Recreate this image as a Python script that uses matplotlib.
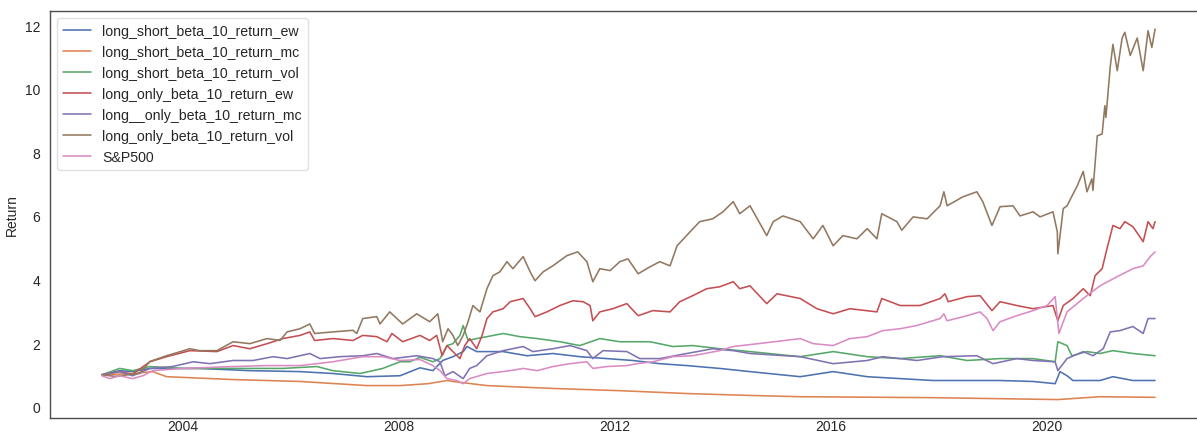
import matplotlib
matplotlib.use("Agg")
import matplotlib.pyplot as plt
import seaborn as sns
import numpy as np

sns.set_style("white")
plt.rcParams["font.family"] = ["Liberation Sans", "DejaVu Sans"]

# ---------------- data (decimal years, cumulative return) ----------------
ls_ew_years = [2002.50, 2002.83, 2003.07, 2003.39, 2004.31, 2005.24, 2006.17, 2006.78, 2007.41, 2008.02,
               2008.39, 2008.63, 2008.81, 2009.00, 2009.19, 2009.26, 2009.44, 2009.93, 2010.37, 2010.85,
               2011.35, 2011.85, 2012.33, 2012.83, 2013.33, 2013.94, 2014.50, 2015.43, 2016.04, 2016.67,
               2017.28, 2017.89, 2019.13, 2019.74, 2020.15, 2020.24, 2020.37, 2020.48, 2020.98, 2021.22,
               2021.59, 2022.00]
ls_ew_vals = [1.00, 1.13, 1.10, 1.20, 1.20, 1.13, 1.10, 1.04, 0.94, 0.97,
              1.22, 1.13, 1.45, 1.57, 1.73, 1.89, 1.73, 1.73, 1.60, 1.67,
              1.57, 1.51, 1.45, 1.35, 1.29, 1.20, 1.10, 0.94, 1.10, 0.94,
              0.88, 0.82, 0.82, 0.79, 0.72, 1.10, 0.97, 0.82, 0.82, 0.94,
              0.82, 0.82]

ls_mc_years = [2002.50, 2003.07, 2003.44, 2003.70, 2004.93, 2006.17, 2007.41, 2008.02, 2008.54, 2008.89,
               2009.00, 2009.63, 2010.85, 2012.09, 2013.33, 2014.50, 2015.43, 2017.89, 2020.20, 2020.98,
               2022.00]
ls_mc_vals = [1.00, 1.04, 1.10, 0.94, 0.85, 0.79, 0.66, 0.66, 0.72, 0.82,
              0.79, 0.66, 0.57, 0.50, 0.41, 0.35, 0.31, 0.28, 0.22, 0.31,
              0.29]

ls_vol_years = [2002.50, 2002.83, 2003.07, 2003.39, 2004.00, 2004.93, 2005.85, 2006.48, 2006.78, 2007.28,
                2007.70, 2008.02, 2008.20, 2008.39, 2008.63, 2008.76, 2008.89, 2009.00, 2009.13, 2009.19,
                2009.28, 2009.44, 2009.63, 2009.93, 2010.24, 2010.56, 2010.98, 2011.35, 2011.72, 2012.09,
                2012.65, 2013.07, 2013.44, 2013.94, 2014.50, 2015.43, 2016.04, 2016.67, 2017.28, 2018.02,
                2018.52, 2019.13, 2019.74, 2020.15, 2020.20, 2020.37, 2020.46, 2020.74, 2020.98, 2021.22,
                2021.59, 2022.00]
ls_vol_vals = [1.00, 1.20, 1.13, 1.26, 1.20, 1.20, 1.20, 1.26, 1.13, 1.04,
               1.20, 1.41, 1.41, 1.55, 1.41, 1.51, 1.92, 1.98, 2.24, 2.55,
               2.08, 2.14, 2.20, 2.30, 2.20, 2.14, 2.04, 1.92, 2.14, 2.04,
               2.04, 1.89, 1.92, 1.82, 1.73, 1.57, 1.73, 1.57, 1.51, 1.60,
               1.45, 1.51, 1.51, 1.41, 2.04, 1.92, 1.60, 1.73, 1.67, 1.76,
               1.67, 1.60]

lo_ew_years = [2002.50, 2002.83, 2003.07, 2003.39, 2003.70, 2004.13, 2004.63, 2004.93, 2005.24, 2005.56,
               2005.85, 2006.17, 2006.35, 2006.44, 2006.78, 2007.15, 2007.33, 2007.59, 2007.78, 2007.87,
               2008.07, 2008.39, 2008.57, 2008.70, 2008.80, 2008.89, 2009.00, 2009.13, 2009.22, 2009.31,
               2009.44, 2009.54, 2009.63, 2009.74, 2009.93, 2010.06, 2010.30, 2010.43, 2010.52, 2010.74,
               2010.98, 2011.22, 2011.41, 2011.54, 2011.59, 2011.72, 2011.96, 2012.22, 2012.43, 2012.70,
               2013.02, 2013.20, 2013.44, 2013.70, 2013.94, 2014.19, 2014.31, 2014.50, 2014.81, 2015.00,
               2015.43, 2015.74, 2016.04, 2016.35, 2016.85, 2016.94, 2017.28, 2017.65, 2018.02, 2018.11,
               2018.17, 2018.52, 2018.76, 2018.98, 2019.13, 2019.44, 2019.74, 2020.11, 2020.20, 2020.30,
               2020.48, 2020.67, 2020.80, 2020.89, 2021.02, 2021.11, 2021.22, 2021.35, 2021.44, 2021.59,
               2021.78, 2021.87, 2021.96, 2022.00]
lo_ew_vals = [1.00, 1.10, 1.02, 1.41, 1.57, 1.76, 1.73, 1.92, 1.82, 1.98,
              2.14, 2.24, 2.35, 2.08, 2.14, 2.08, 2.24, 2.20, 2.04, 2.30,
              2.04, 2.24, 2.08, 2.24, 1.60, 1.92, 1.73, 1.51, 1.92, 2.14,
              1.82, 2.24, 2.77, 2.98, 3.08, 3.30, 3.40, 3.08, 2.83, 2.98,
              3.18, 3.33, 3.30, 3.18, 2.70, 2.98, 3.08, 3.24, 2.86, 3.02,
              2.98, 3.30, 3.49, 3.71, 3.77, 3.93, 3.71, 3.80, 3.24, 3.55,
              3.40, 3.08, 2.92, 3.08, 2.98, 3.40, 3.18, 3.18, 3.40, 3.55,
              3.30, 3.46, 3.49, 3.02, 3.30, 3.18, 3.08, 3.18, 2.70, 3.18,
              3.40, 3.71, 3.49, 4.12, 4.34, 4.97, 5.70, 5.60, 5.82, 5.66,
              5.19, 5.82, 5.60, 5.82]

lo_mc_years = [2002.50, 2002.83, 2003.07, 2003.39, 2003.81, 2004.19, 2004.50, 2004.93, 2005.30, 2005.67,
               2005.93, 2006.35, 2006.54, 2006.91, 2007.33, 2007.59, 2007.89, 2008.33, 2008.63, 2008.76,
               2008.85, 2009.00, 2009.19, 2009.31, 2009.44, 2009.63, 2009.93, 2010.30, 2010.48, 2010.85,
               2011.17, 2011.48, 2011.59, 2011.78, 2012.22, 2012.46, 2012.83, 2013.33, 2013.81, 2014.19,
               2014.50, 2015.43, 2016.04, 2016.67, 2016.96, 2017.59, 2018.07, 2018.70, 2019.00, 2019.44,
               2019.74, 2020.15, 2020.20, 2020.37, 2020.67, 2020.85, 2021.04, 2021.17, 2021.35, 2021.59,
               2021.78, 2021.87, 2022.00]
lo_mc_vals = [1.00, 1.10, 0.97, 1.20, 1.26, 1.41, 1.35, 1.45, 1.45, 1.57,
              1.51, 1.67, 1.51, 1.57, 1.60, 1.67, 1.51, 1.60, 1.51, 1.41,
              0.97, 1.10, 0.88, 1.20, 1.29, 1.60, 1.76, 1.89, 1.73, 1.82,
              1.92, 1.76, 1.51, 1.76, 1.73, 1.51, 1.51, 1.67, 1.82, 1.76,
              1.67, 1.57, 1.35, 1.45, 1.57, 1.45, 1.57, 1.60, 1.35, 1.51,
              1.45, 1.41, 1.13, 1.51, 1.73, 1.60, 1.82, 2.35, 2.39, 2.52,
              2.30, 2.77, 2.77]

lo_vol_years = [2002.50, 2002.75, 2003.07, 2003.20, 2003.39, 2003.70, 2004.13, 2004.31, 2004.63, 2004.93,
                2005.24, 2005.56, 2005.80, 2005.93, 2006.17, 2006.35, 2006.44, 2006.78, 2007.15, 2007.22,
                2007.33, 2007.59, 2007.65, 2007.83, 2008.07, 2008.33, 2008.57, 2008.72, 2008.81, 2008.91,
                2009.00, 2009.09, 2009.19, 2009.28, 2009.37, 2009.50, 2009.63, 2009.74, 2009.87, 2010.00,
                2010.11, 2010.30, 2010.43, 2010.52, 2010.67, 2010.85, 2011.11, 2011.31, 2011.48, 2011.59,
                2011.72, 2011.91, 2012.09, 2012.24, 2012.43, 2012.65, 2012.83, 2013.02, 2013.15, 2013.39,
                2013.57, 2013.81, 2014.00, 2014.19, 2014.31, 2014.50, 2014.81, 2014.93, 2015.11, 2015.43,
                2015.67, 2015.85, 2016.04, 2016.22, 2016.48, 2016.67, 2016.85, 2016.94, 2017.22, 2017.31,
                2017.52, 2017.78, 2018.02, 2018.09, 2018.15, 2018.44, 2018.70, 2018.81, 2018.98, 2019.13,
                2019.37, 2019.50, 2019.74, 2019.87, 2020.11, 2020.19, 2020.20, 2020.30, 2020.37, 2020.56,
                2020.67, 2020.74, 2020.83, 2020.85, 2020.93, 2021.02, 2021.07, 2021.09, 2021.17, 2021.22,
                2021.30, 2021.39, 2021.44, 2021.54, 2021.67, 2021.78, 2021.87, 2021.94, 2022.00]
lo_vol_vals = [1.00, 0.95, 1.02, 1.04, 1.42, 1.60, 1.82, 1.76, 1.76, 2.04,
               1.98, 2.14, 2.08, 2.35, 2.45, 2.60, 2.30, 2.35, 2.40, 2.30,
               2.77, 2.83, 2.60, 2.98, 2.60, 2.92, 2.67, 2.92, 2.04, 2.45,
               2.24, 1.92, 2.24, 2.67, 3.18, 2.98, 3.71, 4.12, 4.24, 4.56,
               4.34, 4.72, 4.24, 3.96, 4.24, 4.43, 4.75, 4.87, 4.56, 3.93,
               4.34, 4.28, 4.56, 4.65, 4.18, 4.40, 4.56, 4.43, 5.06, 5.50,
               5.82, 5.91, 6.13, 6.45, 6.07, 6.32, 5.38, 5.82, 6.00, 5.82,
               5.28, 5.70, 5.06, 5.38, 5.28, 5.60, 5.28, 6.07, 5.82, 5.55,
               5.97, 5.91, 6.32, 6.76, 6.32, 6.60, 6.76, 6.45, 5.70, 6.29,
               6.32, 6.00, 6.13, 5.97, 6.13, 5.50, 4.81, 6.23, 6.32, 6.95,
               7.40, 6.76, 7.17, 6.80, 8.52, 8.58, 9.47, 9.10, 10.70, 11.40,
               10.57, 11.60, 11.78, 11.05, 11.60, 10.57, 11.83, 11.30, 11.88]

sp500_years = [2002.50, 2002.65, 2002.83, 2003.07, 2003.26, 2003.44, 2004.00, 2004.93, 2005.56, 2006.17,
               2006.78, 2007.33, 2007.70, 2008.02, 2008.39, 2008.63, 2008.76, 2008.89, 2009.07, 2009.19,
               2009.31, 2009.63, 2010.06, 2010.30, 2010.56, 2010.85, 2011.17, 2011.48, 2011.59, 2011.85,
               2012.22, 2012.41, 2012.70, 2013.07, 2013.44, 2013.94, 2014.19, 2014.50, 2015.00, 2015.43,
               2015.67, 2016.04, 2016.35, 2016.67, 2016.96, 2017.28, 2017.59, 2018.02, 2018.09, 2018.15,
               2018.52, 2018.76, 2018.89, 2019.00, 2019.13, 2019.44, 2019.74, 2020.00, 2020.15, 2020.22,
               2020.37, 2020.67, 2020.98, 2021.30, 2021.59, 2021.78, 2021.91, 2022.00]
sp500_vals = [0.97, 0.88, 0.97, 0.88, 0.97, 1.13, 1.20, 1.26, 1.29, 1.29,
              1.41, 1.57, 1.57, 1.45, 1.48, 1.29, 1.13, 0.88, 0.82, 0.72,
              0.88, 1.04, 1.13, 1.20, 1.13, 1.26, 1.35, 1.41, 1.20, 1.26,
              1.29, 1.35, 1.41, 1.57, 1.60, 1.76, 1.89, 1.95, 2.05, 2.14,
              1.98, 1.92, 2.14, 2.20, 2.39, 2.45, 2.55, 2.77, 2.92, 2.70,
              2.86, 2.98, 2.77, 2.39, 2.67, 2.86, 3.02, 3.18, 3.46, 2.30,
              2.98, 3.40, 3.80, 4.09, 4.34, 4.43, 4.72, 4.87]

series_labels = ["long_short_beta_10_return_ew", "long_short_beta_10_return_mc",
                 "long_short_beta_10_return_vol", "long_only_beta_10_return_ew",
                 "long__only_beta_10_return_mc", "long_only_beta_10_return_vol", "S&P500"]
x_ticks = [2004, 2008, 2012, 2016, 2020]
x_tick_labels = ["2004", "2008", "2012", "2016", "2020"]
y_ticks = [0, 2, 4, 6, 8, 10, 12]

series = [(ls_ew_years, ls_ew_vals), (ls_mc_years, ls_mc_vals), (ls_vol_years, ls_vol_vals),
          (lo_ew_years, lo_ew_vals), (lo_mc_years, lo_mc_vals), (lo_vol_years, lo_vol_vals),
          (sp500_years, sp500_vals)]

colors = sns.color_palette("deep")

fig = plt.figure(figsize=(11.97, 4.39), dpi=100)
ax = fig.add_axes([50 / 1197, 20 / 439, 1158 / 1197, 407 / 439])

for (xs, ys), lab, c in zip(series, series_labels, colors):
    ax.plot(xs, ys, color=c, lw=1.15, label=lab)

ax.set_xlim(2001.54, 2022.98)
ax.set_ylim(-0.36, 12.45)
ax.set_xticks(x_ticks)
ax.set_xticklabels(x_tick_labels)
ax.set_yticks(y_ticks)
ax.tick_params(labelsize=10.0, colors=".15")
ax.tick_params(axis="x", pad=1.0, length=0)
ax.set_ylabel("Return", fontsize=10.0, color=".15")
for sp in ax.spines.values():
    sp.set_color(".3")
    sp.set_linewidth(1.0)

ax.legend(loc="upper left", fontsize=10.2, frameon=True, edgecolor=".85")

fig.savefig("out.png", dpi=100)
